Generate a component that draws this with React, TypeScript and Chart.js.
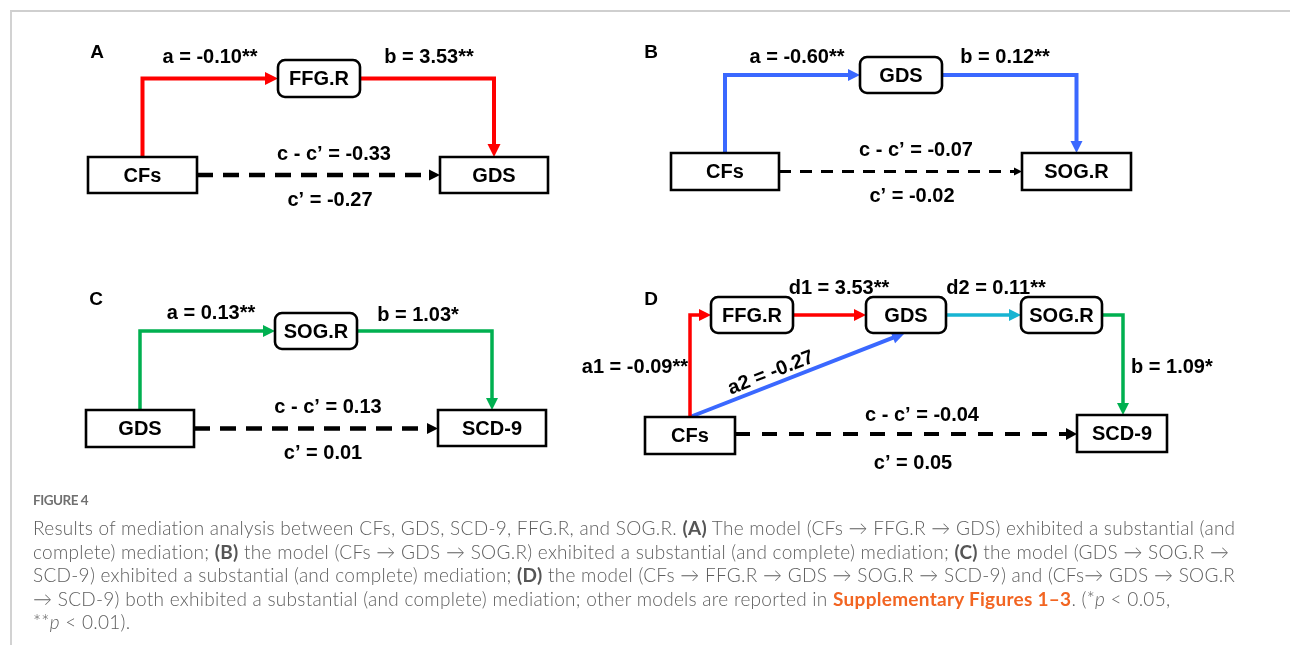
import React, { useEffect, useRef } from "react";
import { Chart, registerables } from "chart.js";

Chart.register(...registerables);

// ---------------- DATA ----------------
const panelLetters = ["A", "B", "C", "D"];

// Panel A: CFs -> FFG.R -> GDS
const nodesA = ["CFs", "FFG.R", "GDS"];
const pathNamesA = ["a", "b"];
const pathCoefsA = [-0.1, 3.53];
const pathSigA = ["**", "**"];
const directA = [-0.33, -0.27]; // c - c', c'

// Panel B: CFs -> GDS -> SOG.R
const nodesB = ["CFs", "GDS", "SOG.R"];
const pathNamesB = ["a", "b"];
const pathCoefsB = [-0.6, 0.12];
const pathSigB = ["**", "**"];
const directB = [-0.07, -0.02];

// Panel C: GDS -> SOG.R -> SCD-9
const nodesC = ["GDS", "SOG.R", "SCD-9"];
const pathNamesC = ["a", "b"];
const pathCoefsC = [0.13, 1.03];
const pathSigC = ["**", "*"];
const directC = [0.13, 0.01];

// Panel D: CFs -> FFG.R -> GDS -> SOG.R -> SCD-9, and CFs -> GDS
const nodesD = ["CFs", "FFG.R", "GDS", "SOG.R", "SCD-9"];
const pathNamesD = ["a1", "d1", "d2", "b", "a2"];
const pathCoefsD = [-0.09, 3.53, 0.11, 1.09, -0.27];
const pathSigD = ["**", "**", "**", "*", ""];
const directD = [-0.04, 0.05];

const captionTitle = "FIGURE 4";
type Seg = { t: string; b?: boolean; o?: boolean; i?: boolean };
const captionLines: Seg[][] = [
  [
    { t: "Results of mediation analysis between CFs, GDS, SCD-9, FFG.R, and SOG.R. " },
    { t: "(A)", b: true },
    { t: " The model (CFs \u2192 FFG.R \u2192 GDS) exhibited a substantial (and" },
  ],
  [
    { t: "complete) mediation; " },
    { t: "(B)", b: true },
    { t: " the model (CFs \u2192 GDS \u2192 SOG.R) exhibited a substantial (and complete) mediation; " },
    { t: "(C)", b: true },
    { t: " the model (GDS \u2192 SOG.R \u2192" },
  ],
  [
    { t: "SCD-9) exhibited a substantial (and complete) mediation; " },
    { t: "(D)", b: true },
    { t: " the model (CFs \u2192 FFG.R \u2192 GDS \u2192 SOG.R \u2192 SCD-9) and (CFs\u2192 GDS \u2192 SOG.R" },
  ],
  [
    { t: "\u2192 SCD-9) both exhibited a substantial (and complete) mediation; other models are reported in " },
    { t: "Supplementary Figures 1\u20133", b: true, o: true },
    { t: ". (*" },
    { t: "p", i: true },
    { t: " < 0.05," },
  ],
  [{ t: "**" }, { t: "p", i: true }, { t: " < 0.01)." }],
];

// ---------------- LAYOUT (positions / sizes / styles) ----------------
const W = 1290;
const H = 653;
type Box = { x0: number; y0: number; x1: number; y1: number; r: number };
const bx = (x0: number, y0: number, x1: number, y1: number, r = 0): Box => ({ x0, y0, x1, y1, r });
const boxesA = [bx(88, 157, 197, 193), bx(278, 60, 360, 97, 7), bx(440, 157, 548, 193)];
const boxesB = [bx(671, 153, 779, 190), bx(860, 57, 942, 93, 7), bx(1022, 153, 1131, 190)];
const boxesC = [bx(86, 410, 194, 447), bx(275, 313, 357, 349, 7), bx(438, 410, 546, 446)];
const boxesD = [
  bx(645, 417, 735, 454),
  bx(711, 297, 793, 333, 7),
  bx(866, 297, 946, 333, 7),
  bx(1021, 297, 1102, 333, 7),
  bx(1077, 415, 1167, 452),
];
const letterPos = [
  [97, 53],
  [651, 53],
  [96, 300],
  [651, 300],
];

const RED = "#ff0000";
const BLUE = "#3a68ff";
const GREEN = "#00b050";
const CYAN = "#17b4d2";
const BLACK = "#000000";

// ---------------- HELPERS ----------------
const cx = (b: Box) => (b.x0 + b.x1) / 2;
const cy = (b: Box) => (b.y0 + b.y1) / 2;
const fmt = (v: number) => v.toFixed(2);
const coefLabel = (name: string, v: number, sig: string) => `${name} = ${fmt(v)}${sig}`;

type Pt = { x: number; y: number };
type Arrow = { tip: Pt; from: Pt; len: number; wid: number; color: string };

function edge(
  pts: Pt[],
  color: string,
  width: number,
  arrowLen: number,
  arrowWid: number,
  dash: number[] = []
) {
  const tip = pts[pts.length - 1];
  const prev = pts[pts.length - 2];
  const dx = tip.x - prev.x;
  const dy = tip.y - prev.y;
  const d = Math.hypot(dx, dy);
  const cut = arrowLen - 1;
  const end = { x: tip.x - (dx / d) * cut, y: tip.y - (dy / d) * cut };
  const data = [...pts.slice(0, -1), end];
  return {
    type: "scatter" as const,
    data,
    showLine: true,
    borderColor: color,
    backgroundColor: color,
    borderWidth: width,
    borderDash: dash,
    borderCapStyle: "butt" as const,
    borderJoinStyle: "miter" as const,
    pointRadius: 0,
    pointHoverRadius: 0,
    tension: 0,
    fill: false,
    arrow: { tip, from: prev, len: arrowLen, wid: arrowWid, color } as Arrow,
  };
}

// elbow: from top of box a, up to level of box b, right to b's left side
const elbowUp = (a: Box, b: Box, x = cx(a)) => [
  { x, y: a.y0 },
  { x, y: cy(b) },
  { x: b.x0, y: cy(b) },
];
// elbow: from right side of box a, right to centre of b, down to b's top
const elbowDown = (a: Box, b: Box, x = cx(b)) => [
  { x: a.x1, y: cy(a) },
  { x, y: cy(a) },
  { x, y: b.y0 },
];
const straight = (a: Box, b: Box, y = cy(a)) => [
  { x: a.x1, y },
  { x: b.x0, y },
];

type Txt = { t: string; x: number; y: number; align?: CanvasTextAlign; rot?: number; size?: number };

function buildDiagram() {
  const datasets: any[] = [];
  const texts: Txt[] = [];
  const boxes: { b: Box; label: string }[] = [];

  // Panel A
  datasets.push(edge(elbowUp(boxesA[0], boxesA[1]), RED, 4, 13, 13));
  datasets.push(edge(elbowDown(boxesA[1], boxesA[2]), RED, 4, 13, 13));
  datasets.push(edge(straight(boxesA[0], boxesA[2]), BLACK, 4.5, 11, 11, [16, 10]));
  texts.push({ t: coefLabel(pathNamesA[0], pathCoefsA[0], pathSigA[0]), x: 210, y: 57 });
  texts.push({ t: coefLabel(pathNamesA[1], pathCoefsA[1], pathSigA[1]), x: 429, y: 57 });
  texts.push({ t: `c - c\u2019 = ${fmt(directA[0])}`, x: 334, y: 154 });
  texts.push({ t: `c\u2019 = ${fmt(directA[1])}`, x: 330, y: 200 });
  nodesA.forEach((l, i) => boxes.push({ b: boxesA[i], label: l }));

  // Panel B
  datasets.push(edge(elbowUp(boxesB[0], boxesB[1]), BLUE, 4, 12, 12));
  datasets.push(edge(elbowDown(boxesB[1], boxesB[2]), BLUE, 4, 12, 12));
  datasets.push(edge(straight(boxesB[0], boxesB[2]), BLACK, 3, 8, 8, [12, 9]));
  texts.push({ t: coefLabel(pathNamesB[0], pathCoefsB[0], pathSigB[0]), x: 797, y: 57 });
  texts.push({ t: coefLabel(pathNamesB[1], pathCoefsB[1], pathSigB[1]), x: 1005, y: 57 });
  texts.push({ t: `c - c\u2019 = ${fmt(directB[0])}`, x: 916, y: 150 });
  texts.push({ t: `c\u2019 = ${fmt(directB[1])}`, x: 912, y: 196 });
  nodesB.forEach((l, i) => boxes.push({ b: boxesB[i], label: l }));

  // Panel C
  datasets.push(edge(elbowUp(boxesC[0], boxesC[1]), GREEN, 3.5, 12, 12));
  datasets.push(edge(elbowDown(boxesC[1], boxesC[2]), GREEN, 3.5, 12, 12));
  datasets.push(edge(straight(boxesC[0], boxesC[2]), BLACK, 4.5, 11, 11, [16, 10]));
  texts.push({ t: coefLabel(pathNamesC[0], pathCoefsC[0], pathSigC[0]), x: 211, y: 313 });
  texts.push({ t: coefLabel(pathNamesC[1], pathCoefsC[1], pathSigC[1]), x: 418, y: 315 });
  texts.push({ t: `c - c\u2019 = ${fmt(directC[0])}`, x: 328, y: 407 });
  texts.push({ t: `c\u2019 = ${fmt(directC[1])}`, x: 323, y: 453 });
  nodesC.forEach((l, i) => boxes.push({ b: boxesC[i], label: l }));

  // Panel D
  const [dCF, dFFG, dGDS, dSOG, dSCD] = boxesD;
  datasets.push(edge(elbowUp(dCF, dFFG), RED, 3.5, 12, 12));
  datasets.push(edge(straight(dFFG, dGDS), RED, 3.5, 12, 12));
  datasets.push(edge(straight(dGDS, dSOG), CYAN, 3.5, 12, 12));
  datasets.push(edge(elbowDown(dSOG, dSCD, cx(dSCD) + 1), GREEN, 3.5, 12, 12));
  const diagFrom = { x: cx(dCF), y: dCF.y0 };
  const diagTo = { x: cx(dGDS) - 1, y: dGDS.y1 };
  datasets.push(edge([diagFrom, diagTo], BLUE, 4, 13, 12));
  datasets.push(edge(straight(dCF, dSCD, 434), BLACK, 4, 11, 12, [15, 12]));
  const ang = Math.atan2(diagTo.y - diagFrom.y, diagTo.x - diagFrom.x);
  texts.push({ t: coefLabel(pathNamesD[0], pathCoefsD[0], pathSigD[0]), x: 688, y: 367, align: "right" });
  texts.push({ t: coefLabel(pathNamesD[1], pathCoefsD[1], pathSigD[1]), x: 839, y: 288 });
  texts.push({ t: coefLabel(pathNamesD[2], pathCoefsD[2], pathSigD[2]), x: 996, y: 288 });
  texts.push({ t: coefLabel(pathNamesD[3], pathCoefsD[3], pathSigD[3]), x: 1131, y: 367, align: "left" });
  texts.push({ t: coefLabel(pathNamesD[4], pathCoefsD[4], pathSigD[4]), x: 771, y: 373, rot: ang });
  texts.push({ t: `c - c\u2019 = ${fmt(directD[0])}`, x: 922, y: 415 });
  texts.push({ t: `c\u2019 = ${fmt(directD[1])}`, x: 913, y: 463 });
  nodesD.forEach((l, i) => boxes.push({ b: boxesD[i], label: l }));

  panelLetters.forEach((l, i) =>
    texts.push({ t: l, x: letterPos[i][0], y: letterPos[i][1], size: 19 })
  );

  return { datasets, texts, boxes };
}

const FONT = '"Liberation Sans", Arial, Helvetica, sans-serif';

function DiagramChart() {
  const ref = useRef<HTMLCanvasElement | null>(null);
  useEffect(() => {
    if (!ref.current) return;
    const { datasets, texts, boxes } = buildDiagram();
    const plugin = {
      id: "diagramDecor",
      afterDatasetsDraw(chart: any) {
        const ctx: CanvasRenderingContext2D = chart.ctx;
        const sx = chart.scales.x;
        const sy = chart.scales.y;
        const px = (v: number) => sx.getPixelForValue(v);
        const py = (v: number) => sy.getPixelForValue(v);
        ctx.save();
        // arrowheads
        chart.data.datasets.forEach((ds: any) => {
          const a: Arrow = ds.arrow;
          if (!a) return;
          const tx = px(a.tip.x);
          const ty = py(a.tip.y);
          const fx = px(a.from.x);
          const fy = py(a.from.y);
          const t = Math.atan2(ty - fy, tx - fx);
          const bxp = tx - Math.cos(t) * a.len;
          const byp = ty - Math.sin(t) * a.len;
          const nx = -Math.sin(t) * (a.wid / 2);
          const ny = Math.cos(t) * (a.wid / 2);
          ctx.beginPath();
          ctx.moveTo(tx, ty);
          ctx.lineTo(bxp + nx, byp + ny);
          ctx.lineTo(bxp - nx, byp - ny);
          ctx.closePath();
          ctx.fillStyle = a.color;
          ctx.fill();
        });
        // boxes
        boxes.forEach(({ b, label }) => {
          const x0 = px(b.x0);
          const y0 = py(b.y0);
          const x1 = px(b.x1);
          const y1 = py(b.y1);
          ctx.beginPath();
          const r = b.r;
          ctx.moveTo(x0 + r, y0);
          ctx.lineTo(x1 - r, y0);
          if (r) ctx.arcTo(x1, y0, x1, y0 + r, r);
          ctx.lineTo(x1, y1 - r);
          if (r) ctx.arcTo(x1, y1, x1 - r, y1, r);
          ctx.lineTo(x0 + r, y1);
          if (r) ctx.arcTo(x0, y1, x0, y1 - r, r);
          ctx.lineTo(x0, y0 + r);
          if (r) ctx.arcTo(x0, y0, x0 + r, y0, r);
          ctx.closePath();
          ctx.fillStyle = "#ffffff";
          ctx.fill();
          ctx.lineWidth = 2.6;
          ctx.strokeStyle = "#000000";
          ctx.stroke();
          ctx.fillStyle = "#000000";
          ctx.font = `bold 20px ${FONT}`;
          ctx.textAlign = "center";
          ctx.textBaseline = "middle";
          ctx.fillText(label, (x0 + x1) / 2, (y0 + y1) / 2 + 1);
        });
        // texts
        texts.forEach((tx) => {
          ctx.save();
          ctx.fillStyle = "#000000";
          ctx.font = `bold ${tx.size || 20}px ${FONT}`;
          ctx.textAlign = tx.align || "center";
          ctx.textBaseline = "middle";
          ctx.translate(px(tx.x), py(tx.y));
          if (tx.rot) ctx.rotate(tx.rot);
          ctx.fillText(tx.t, 0, 0);
          ctx.restore();
        });
        ctx.restore();
      },
    };
    const chart = new Chart(ref.current, {
      type: "scatter",
      data: { datasets },
      options: {
        animation: false,
        responsive: false,
        maintainAspectRatio: false,
        events: [],
        layout: { padding: 0 },
        plugins: { legend: { display: false }, tooltip: { enabled: false } },
        scales: {
          x: { type: "linear", min: 0, max: W, display: false },
          y: { type: "linear", min: 0, max: H, reverse: true, display: false },
        },
      },
      plugins: [plugin],
    } as any);
    return () => chart.destroy();
  }, []);
  return (
    <canvas
      ref={ref}
      width={W}
      height={H}
      style={{ position: "absolute", left: 0, top: 0, width: W, height: H }}
    />
  );
}

const CAP_FONT = 'Lato, "Open Sans", "Noto Sans", sans-serif';

export default function App() {
  return (
    <div style={{ position: "absolute", left: 0, top: 0, width: W, height: H, overflow: "hidden", background: "#fff" }}>
      <div
        style={{
          position: "absolute",
          left: 10,
          top: 10,
          width: W,
          height: 633,
          borderLeft: "2px solid #d2d2d2",
          borderTop: "2px solid #cfcfcf",
        }}
      />
      <DiagramChart />
      <div
        style={{
          position: "absolute",
          left: 33,
          top: 491,
          fontFamily: CAP_FONT,
          fontSize: 13.5,
          fontWeight: 700,
          letterSpacing: "-0.5px",
          color: "#707070",
          lineHeight: "18px",
          whiteSpace: "nowrap",
        }}
      >
        {captionTitle}
      </div>
      {captionLines.map((line, li) => (
        <div
          key={li}
          style={{
            position: "absolute",
            left: 33,
            top: 516 + li * 23.5,
            fontFamily: CAP_FONT,
            fontSize: 19,
            fontWeight: 300,
            letterSpacing: "0.28px",
            color: "#5e5e5e",
            lineHeight: "23.5px",
            whiteSpace: "nowrap",
          }}
        >
          {line.map((s, si) => (
            <span
              key={si}
              style={{
                fontWeight: s.b ? 700 : 300,
                fontStyle: s.i ? "italic" : "normal",
                color: s.o ? "#f26522" : s.b ? "#555555" : undefined,
              }}
            >
              {s.t}
            </span>
          ))}
        </div>
      ))}
    </div>
  );
}
